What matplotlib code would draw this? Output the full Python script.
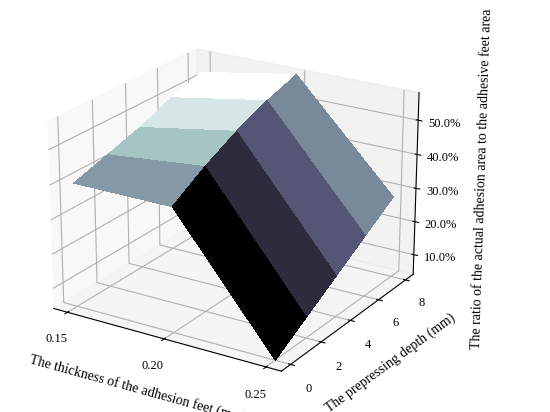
import numpy as np
import matplotlib
matplotlib.use('Agg')
import matplotlib.pyplot as plt
from matplotlib.ticker import FuncFormatter

plt.rcParams['font.family'] = ['Liberation Serif', 'DejaVu Serif']

thickness = [0.15, 0.20, 0.25]
depth = [0, 2, 4, 6, 8]
# ratio (%) rows = depth, cols = thickness
ratio = np.array([
    [40, 40, 4],
    [43, 46, 10],
    [46, 51, 16],
    [50, 55, 22],
    [53, 58, 28],
])

X, Y = np.meshgrid(thickness, depth)

fig = plt.figure(figsize=(5.5, 4.12), dpi=100)
ax = fig.add_axes([-0.04, 0.0, 0.92, 1.0], projection='3d')
ax.plot_surface(X, Y, ratio, cmap='bone', linewidth=0, antialiased=False, shade=False)
ax.set_xticks([0.15, 0.20, 0.25])
ax.set_yticks([0, 2, 4, 6, 8])
ax.set_zticks([10, 20, 30, 40, 50])
ax.set_zlim(4, 58)
ax.zaxis.set_major_formatter(FuncFormatter(lambda v, p: f'{v:.1f}%'))
ax.set_xlabel('The thickness of the adhesion feet (mm)', fontsize=10, labelpad=6)
ax.set_ylabel('The prepressing depth (mm)', fontsize=10, labelpad=6)
ax.set_zlabel('The ratio of the actual adhesion area to the adhesive feet area', fontsize=10, labelpad=8)
ax.tick_params(labelsize=9)
ax.view_init(elev=22, azim=-58)
fig.savefig('out.png', dpi=100)
